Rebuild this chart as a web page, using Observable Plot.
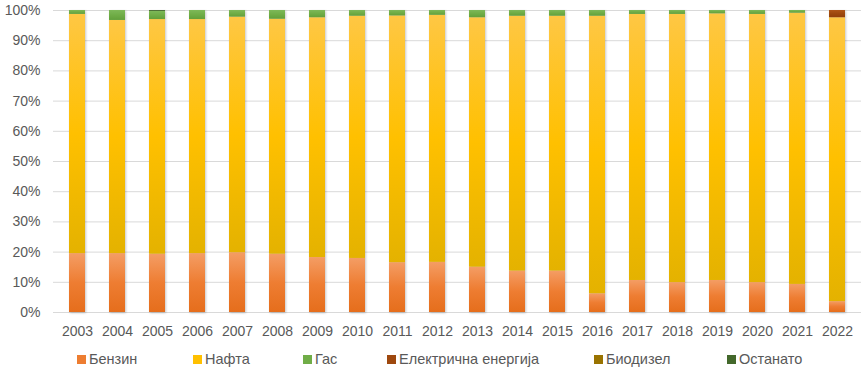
<!DOCTYPE html>
<html>
<head>
<meta charset="utf-8">
<script src="https://cdn.jsdelivr.net/npm/d3@7"></script>
<script src="https://cdn.jsdelivr.net/npm/@observablehq/plot@0.6"></script>
<style>
  html, body { margin: 0; padding: 0; background: #fff; }
  #wrap { position: relative; width: 863px; height: 368px; font-family: "Liberation Sans", Arial, sans-serif; }
  #legend { position: absolute; left: 0; top: 350px; width: 863px; height: 18px; font-size: 14.5px; color: #595959; }
  .li { position: absolute; top: 0; height: 18px; line-height: 18px; white-space: nowrap; }
  .sw { display: inline-block; width: 9px; height: 9px; margin-right: 3px; vertical-align: 0px; }
</style>
</head>
<body>
<div id="wrap"><div id="chart"></div><div id="legend"></div></div>
<script>
const years = [2003,2004,2005,2006,2007,2008,2009,2010,2011,2012,2013,2014,2015,2016,2017,2018,2019,2020,2021,2022];
const benzin    = [19.5,19.5,19.3,19.5,19.8,19.3,18.2,17.9,16.5,16.6,15.0,13.7,13.7,6.2,10.6,9.9,10.6,9.9,9.3,3.6];
const nafta     = [79.2,77.2,77.7,77.5,78.0,77.8,79.4,80.2,81.7,81.8,82.6,84.4,84.4,91.9,88.1,88.8,88.3,88.8,89.8,94.0];
const gas       = [1.3,3.3,2.7,3.0,2.2,2.9,2.4,1.9,1.8,1.6,2.4,1.9,1.9,1.9,1.3,1.3,1.1,1.3,0.9,0.0];
const electric  = [0,0,0,0,0,0,0,0,0,0,0,0,0,0,0,0,0,0,0,2.4];
const biodiesel = [0,0,0,0,0,0,0,0,0,0,0,0,0,0,0,0,0,0,0,0];
const other     = [0,0,0.3,0,0,0,0,0,0,0,0,0,0,0,0,0,0,0,0,0];
const seriesNames = ["Бензин","Нафта","Гас","Електрична енергија","Биодизел","Останато"];
const yTicks = [0,10,20,30,40,50,60,70,80,90,100];

const seriesValues = [benzin, nafta, gas, electric, biodiesel, other];
const legendColors = ["#ED7D31","#FFC000","#70AD47","#9E480E","#997300","#43682B"];
const gradStops = [
  ["#F49D64","#EE7D32","#E56E1C"],
  ["#FEC744","#FFC000","#E4B200"],
  ["#7DB858","#70AD47","#62A03A"],
  ["#AE5518","#9E480E","#923F0A"],
  ["#A98210","#997300","#8A6700"],
  ["#4E7835","#43682B","#3A5C24"]
];
const legendX = [77,193,303,387,594,727];

const data = years.flatMap((yr, i) => seriesNames.map((s, k) => ({
  year: String(yr), series: s, value: seriesValues[k][i], k
})));

const chart = Plot.plot({
  width: 863, height: 345,
  marginLeft: 53, marginRight: 2, marginTop: 10, marginBottom: 33,
  style: { fontFamily: "Liberation Sans, Arial, sans-serif", fontSize: "14px", color: "#595959", background: "white", overflow: "visible" },
  x: { type: "band", domain: years.map(String), paddingInner: 0.6, paddingOuter: 0.3, label: null },
  y: { domain: [0, 100], label: null },
  color: { type: "identity" },
  marks: [
    Plot.gridY(yTicks, { stroke: "#D9D9D9", strokeOpacity: 1, strokeWidth: 1 }),
    Plot.barY(data, { x: "year", y: "value", z: "series", order: seriesNames, fill: d => `url(#grad${d.k})` }),
    Plot.axisX({ tickSize: 0, tickPadding: 14, fill: "#595959" }),
    Plot.axisY(yTicks, { tickSize: 0, tickPadding: 13, tickFormat: d => d + "%", fill: "#595959", label: null })
  ]
});

// gradients
const ns = "http://www.w3.org/2000/svg";
const defs = document.createElementNS(ns, "defs");
gradStops.forEach((stops, k) => {
  const g = document.createElementNS(ns, "linearGradient");
  g.setAttribute("id", "grad" + k);
  g.setAttribute("x1", "0"); g.setAttribute("y1", "0"); g.setAttribute("x2", "0"); g.setAttribute("y2", "1");
  stops.forEach((c, j) => {
    const s = document.createElementNS(ns, "stop");
    s.setAttribute("offset", (j / (stops.length - 1) * 100) + "%");
    s.setAttribute("stop-color", c);
    g.appendChild(s);
  });
  defs.appendChild(g);
});
chart.insertBefore(defs, chart.firstChild);
const barG = chart.querySelector('g[aria-label="bar"]');
if (barG) barG.style.filter = "drop-shadow(1.5px 1px 1px rgba(0,0,0,0.22))";

document.getElementById("chart").appendChild(chart);

// legend
const legend = document.getElementById("legend");
seriesNames.forEach((name, k) => {
  const item = document.createElement("div");
  item.className = "li";
  item.style.left = legendX[k] + "px";
  const sw = document.createElement("span");
  sw.className = "sw";
  sw.style.background = legendColors[k];
  item.appendChild(sw);
  item.appendChild(document.createTextNode(name));
  legend.appendChild(item);
});
</script>
</body>
</html>
